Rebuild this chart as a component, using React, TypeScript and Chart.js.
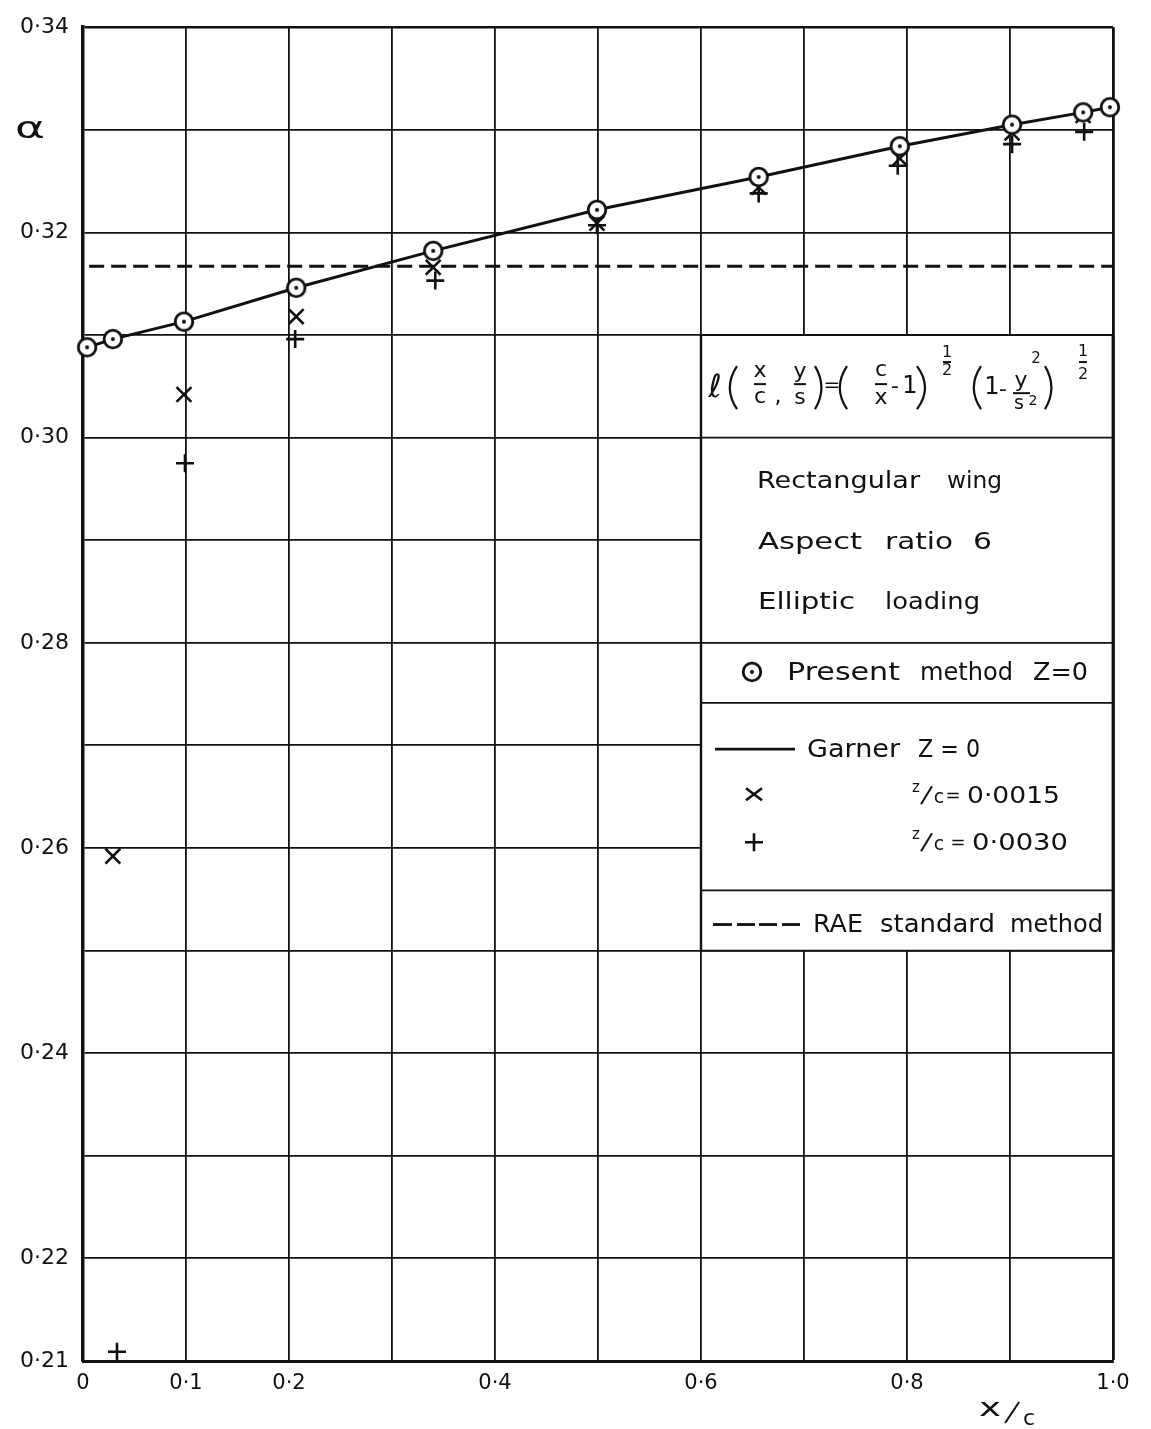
import React, { useEffect, useRef } from 'react';
import { Chart, registerables } from 'chart.js';

Chart.register(...registerables);

// ---- data ----
const xPresent = [0.004, 0.029, 0.098, 0.207, 0.34, 0.499, 0.656, 0.793, 0.902, 0.971, 0.997];
const alphaPresent = [0.3088, 0.3096, 0.3113, 0.3146, 0.3182, 0.3222, 0.3254, 0.3284, 0.3305, 0.3317, 0.3322];

const xGarner = [0.004, 0.029, 0.098, 0.207, 0.34, 0.499, 0.656, 0.793, 0.902, 0.971, 0.997];
const alphaGarner = [0.3088, 0.3096, 0.3113, 0.3146, 0.3182, 0.3222, 0.3254, 0.3284, 0.3305, 0.3317, 0.3322];

const xCross = [0.029, 0.098, 0.207, 0.34, 0.499, 0.656, 0.793, 0.902, 0.971];
const alphaCross = [0.2592, 0.3042, 0.3118, 0.3166, 0.3209, 0.3244, 0.3272, 0.3297, 0.3314];

const xPlus = [0.033, 0.099, 0.206, 0.342, 0.499, 0.656, 0.791, 0.902, 0.972];
const alphaPlus = [0.2109, 0.2975, 0.3096, 0.3153, 0.3207, 0.3238, 0.3265, 0.3286, 0.3298];

const xRae = [0.006, 1.0];
const alphaRae = [0.3167, 0.3167];

const xTickLabels = [0, 0.1, 0.2, 0.4, 0.6, 0.8, 1.0];
const yTickLabels = [0.34, 0.32, 0.3, 0.28, 0.26, 0.24, 0.22, 0.21];

const INK = '#111';
const FONT = '"DejaVu Sans", "Noto Sans", sans-serif';

const pts = (xs: number[], ys: number[]) => xs.map((x, i) => ({ x, y: ys[i] }));
const near = (arr: number[], v: number) => arr.some((t) => Math.abs(t - v) < 1e-6);
const fmt = (v: number, d: number) => (Math.abs(v) < 1e-9 ? '0' : v.toFixed(d).replace('.', '·'));

function makeCircleMarker() {
  const c = document.createElement('canvas');
  c.width = 26;
  c.height = 26;
  const g = c.getContext('2d')!;
  g.fillStyle = '#fff';
  g.strokeStyle = INK;
  g.lineWidth = 2.8;
  g.beginPath();
  g.arc(13, 13, 8.8, 0, Math.PI * 2);
  g.fill();
  g.stroke();
  g.fillStyle = INK;
  g.beginPath();
  g.arc(13, 13, 2, 0, Math.PI * 2);
  g.fill();
  return c;
}

function makePlugin(circleImg: HTMLCanvasElement) {
  return {
    id: 'legendBox',
    beforeDatasetsDraw(chart: any) {
      const g: CanvasRenderingContext2D = chart.ctx;
      const xs = chart.scales.x;
      const ys = chart.scales.y;
      const ca = chart.chartArea;
      const L = xs.getPixelForValue(0.6);
      const R = ca.right;
      const T = ys.getPixelForValue(0.31);
      const B = ys.getPixelForValue(0.25);
      const mx = (x: number) => L + ((x - 701) * (R - L)) / 412;
      const my = (y: number) => T + ((y - 337) * (B - T)) / 614;

      const hl = (x1: number, x2: number, y: number, w: number) => {
        g.lineWidth = w;
        g.beginPath();
        g.moveTo(x1, y);
        g.lineTo(x2, y);
        g.stroke();
      };
      const word = (s: string, x1: number, x2: number, base: number, size: number) => {
        g.font = `${size}px ${FONT}`;
        g.textAlign = 'left';
        g.textBaseline = 'alphabetic';
        const w = g.measureText(s).width;
        const tw = mx(x2) - mx(x1);
        g.save();
        g.translate(mx(x1), my(base));
        g.scale(tw / w, 1);
        g.fillText(s, 0, 0);
        g.restore();
      };
      const ch = (s: string, x: number, y: number, size: number) => {
        g.font = `${size}px ${FONT}`;
        g.textAlign = 'center';
        g.textBaseline = 'middle';
        g.fillText(s, mx(x), my(y));
      };
      const bar = (x1: number, x2: number, y: number) => {
        g.lineWidth = 2;
        g.beginPath();
        g.moveTo(mx(x1), my(y));
        g.lineTo(mx(x2), my(y));
        g.stroke();
      };
      const paren = (x1: number, x2: number, y1: number, y2: number, open: boolean) => {
        g.lineWidth = 2.2;
        g.beginPath();
        const mid = (my(y1) + my(y2)) / 2;
        if (open) {
          g.moveTo(mx(x2), my(y1));
          g.quadraticCurveTo(mx(x1) - (x2 - x1) * 0.6, mid, mx(x2), my(y2));
        } else {
          g.moveTo(mx(x1), my(y1));
          g.quadraticCurveTo(mx(x2) + (x2 - x1) * 0.6, mid, mx(x1), my(y2));
        }
        g.stroke();
      };

      g.save();
      g.fillStyle = '#fff';
      g.fillRect(L, T, R - L, B - T);
      g.strokeStyle = INK;
      g.fillStyle = INK;
      // outer frame
      hl(L, R, T, 1.8);
      hl(L, R, B, 1.8);
      g.lineWidth = 2.4;
      g.beginPath();
      g.moveTo(L, T);
      g.lineTo(L, B);
      g.stroke();
      g.lineWidth = 2.8;
      g.beginPath();
      g.moveTo(R, T);
      g.lineTo(R, B);
      g.stroke();
      // dividers
      hl(L, R, ys.getPixelForValue(0.3), 1.8);
      hl(L, R, ys.getPixelForValue(0.28), 1.8);
      hl(L, R, my(704), 1.8);
      hl(L, R, my(891), 1.8);

      // formula  l(x/c, y/s) = (c/x - 1)^1/2 (1 - y^2/s^2)^1/2
      ch('ℓ', 715, 391, 32);
      paren(728, 737, 368, 411, true);
      ch('x', 760, 373, 22);
      bar(754, 766, 386);
      ch('c', 760, 399, 22);
      ch(',', 778, 399, 22);
      ch('y', 800, 374, 22);
      bar(794, 806, 386);
      ch('s', 800, 400, 22);
      paren(815, 823, 368, 411, false);
      ch('=', 832, 388, 20);
      paren(838, 847, 368, 411, true);
      ch('c', 881, 372, 22);
      bar(875, 887, 386);
      ch('x', 881, 400, 22);
      ch('-', 895, 389, 22);
      ch('1', 910, 389, 24);
      paren(917, 927, 368, 411, false);
      ch('1', 947, 355, 16);
      bar(943, 951, 364);
      ch('2', 947, 373, 16);
      paren(972, 981, 368, 411, true);
      ch('1', 992, 390, 24);
      ch('-', 1003, 392, 22);
      ch('y', 1021, 383, 22);
      ch('2', 1036, 361, 15);
      bar(1013, 1030, 395);
      ch('s', 1019, 406, 19);
      ch('2', 1033, 403, 14);
      paren(1045, 1053, 368, 411, false);
      ch('1', 1083, 354, 16);
      bar(1079, 1087, 364);
      ch('2', 1083, 377, 16);

      // description
      word('Rectangular', 757, 920, 490, 23);
      word('wing', 947, 1002, 490, 23);
      word('Aspect', 758, 862, 550, 23);
      word('ratio', 885, 953, 550, 23);
      word('6', 973, 992, 550, 23);
      word('Elliptic', 758, 855, 610, 23);
      word('loading', 885, 980, 610, 23);

      // present method
      g.drawImage(circleImg, mx(752) - 13, my(673) - 13);
      word('Present', 787, 900, 681, 24);
      word('method', 920, 1013, 681, 24);
      word('Z=0', 1033, 1088, 681, 24);

      // Garner
      g.lineWidth = 2.6;
      g.beginPath();
      g.moveTo(mx(715), my(750));
      g.lineTo(mx(795), my(750));
      g.stroke();
      word('Garner', 807, 900, 758, 24);
      word('Z = 0', 918, 980, 758, 24);

      // x marker row
      const cx = mx(754);
      let cy = my(795);
      g.lineWidth = 2.6;
      g.beginPath();
      g.moveTo(cx - 8, cy - 6);
      g.lineTo(cx + 8, cy + 6);
      g.moveTo(cx - 8, cy + 6);
      g.lineTo(cx + 8, cy - 6);
      g.stroke();
      ch('z', 916, 789, 15);
      g.lineWidth = 2;
      g.beginPath();
      g.moveTo(mx(932), my(787));
      g.lineTo(mx(921), my(805));
      g.stroke();
      ch('c', 939, 799, 19);
      ch('=', 953, 797, 18);
      word('0·0015', 967, 1060, 804, 23);

      // + marker row
      cy = my(843);
      g.lineWidth = 2.6;
      g.beginPath();
      g.moveTo(cx - 9, cy);
      g.lineTo(cx + 9, cy);
      g.moveTo(cx, cy - 9);
      g.lineTo(cx, cy + 9);
      g.stroke();
      ch('z', 916, 836, 15);
      g.lineWidth = 2;
      g.beginPath();
      g.moveTo(mx(932), my(834));
      g.lineTo(mx(921), my(852));
      g.stroke();
      ch('c', 939, 846, 19);
      ch('=', 958, 844, 18);
      word('0·0030', 972, 1068, 851, 23);

      // RAE
      g.lineWidth = 2.8;
      [[713, 732], [737, 755], [759, 777], [782, 800]].forEach(([a, b]) => {
        g.beginPath();
        g.moveTo(mx(a), my(925));
        g.lineTo(mx(b), my(925));
        g.stroke();
      });
      word('RAE', 813, 863, 932, 24);
      word('standard', 880, 995, 932, 24);
      word('method', 1010, 1103, 932, 24);
      g.restore();
    },
    afterDraw(chart: any) {
      const g: CanvasRenderingContext2D = chart.ctx;
      const ys = chart.scales.y;
      const xs = chart.scales.x;
      const ca = chart.chartArea;
      g.save();
      g.fillStyle = INK;
      g.strokeStyle = INK;
      // alpha label
      g.font = `30px ${FONT}`;
      g.textAlign = 'left';
      g.textBaseline = 'middle';
      const aw = g.measureText('α').width;
      g.save();
      g.translate(ca.left - 68, ys.getPixelForValue(0.33));
      g.scale(30 / aw, 1);
      g.fillText('α', 0, 0);
      g.restore();
      // x/c title
      const bx = xs.getPixelForValue(0.87);
      const by = ca.bottom;
      g.font = `24px ${FONT}`;
      g.textBaseline = 'alphabetic';
      const xw = g.measureText('x').width;
      g.save();
      g.translate(bx, by + 55);
      g.scale(22 / xw, 1);
      g.fillText('x', 0, 0);
      g.restore();
      g.lineWidth = 2;
      g.beginPath();
      g.moveTo(bx + 40, by + 41);
      g.lineTo(bx + 26, by + 62);
      g.stroke();
      g.font = `22px ${FONT}`;
      g.fillText('c', bx + 44, by + 64);
      g.restore();
    },
  };
}

export default function App() {
  const ref = useRef<HTMLCanvasElement | null>(null);

  useEffect(() => {
    document.body.style.margin = '0';
    const canvas = ref.current;
    if (!canvas) return;
    const circleImg = makeCircleMarker();

    const chart = new Chart(canvas, {
      type: 'scatter',
      data: {
        datasets: [
          {
            label: 'Present method Z=0',
            data: pts(xPresent, alphaPresent),
            pointStyle: circleImg as any,
            pointRadius: 10,
            clip: false as any,
            order: 1,
          },
          {
            label: 'z/c = 0·0015',
            data: pts(xCross, alphaCross),
            pointStyle: 'crossRot',
            pointRadius: 10.5,
            borderColor: INK,
            backgroundColor: INK,
            borderWidth: 2.6,
            clip: false as any,
            order: 2,
          },
          {
            label: 'z/c = 0·0030',
            data: pts(xPlus, alphaPlus),
            pointStyle: 'cross',
            pointRadius: 9,
            borderColor: INK,
            backgroundColor: INK,
            borderWidth: 2.6,
            clip: false as any,
            order: 3,
          },
          {
            label: 'Garner Z=0',
            data: pts(xGarner, alphaGarner),
            showLine: true,
            borderColor: INK,
            borderWidth: 3,
            pointRadius: 0,
            tension: 0,
            clip: false as any,
            order: 4,
          },
          {
            label: 'RAE standard method',
            data: pts(xRae, alphaRae),
            showLine: true,
            borderColor: INK,
            borderWidth: 2.8,
            borderDash: [15, 7],
            pointRadius: 0,
            order: 5,
          },
        ],
      },
      options: {
        responsive: false,
        animation: false,
        devicePixelRatio: 1,
        events: [],
        layout: { padding: { top: 26, right: 38, left: 0, bottom: 0 } },
        plugins: { legend: { display: false }, tooltip: { enabled: false } },
        scales: {
          x: {
            type: 'linear',
            min: 0,
            max: 1,
            afterFit: (s: any) => {
              s.height = 68;
            },
            ticks: {
              stepSize: 0.1,
              autoSkip: false,
              maxRotation: 0,
              padding: 10,
              color: INK,
              font: { family: FONT, size: 21 },
              callback: (v: any) => (near(xTickLabels, Number(v)) ? fmt(Number(v), 1) : ''),
            },
            grid: {
              color: INK,
              drawTicks: false,
              lineWidth: (c: any) => (c.tick && Math.abs(c.tick.value - 1) < 1e-6 ? 2.8 : 1.8),
            },
            border: { color: INK, width: 3 },
          },
          y: {
            type: 'linear',
            min: 0.21,
            max: 0.34,
            afterFit: (s: any) => {
              s.width = 83;
            },
            ticks: {
              stepSize: 0.01,
              autoSkip: false,
              padding: 14,
              color: INK,
              font: { family: FONT, size: 22 },
              callback: (v: any) => (near(yTickLabels, Number(v)) ? fmt(Number(v), 2) : ''),
            },
            grid: {
              color: INK,
              drawTicks: false,
              lineWidth: (c: any) => (c.tick && Math.abs(c.tick.value - 0.34) < 1e-6 ? 2.6 : 1.8),
            },
            border: { color: INK, width: 3.5 },
          },
        },
      },
      plugins: [makePlugin(circleImg)],
    } as any);

    return () => chart.destroy();
  }, []);

  return (
    <div style={{ width: 1151, height: 1429, background: '#fff' }}>
      <canvas ref={ref} width={1151} height={1429} style={{ display: 'block' }} />
    </div>
  );
}
